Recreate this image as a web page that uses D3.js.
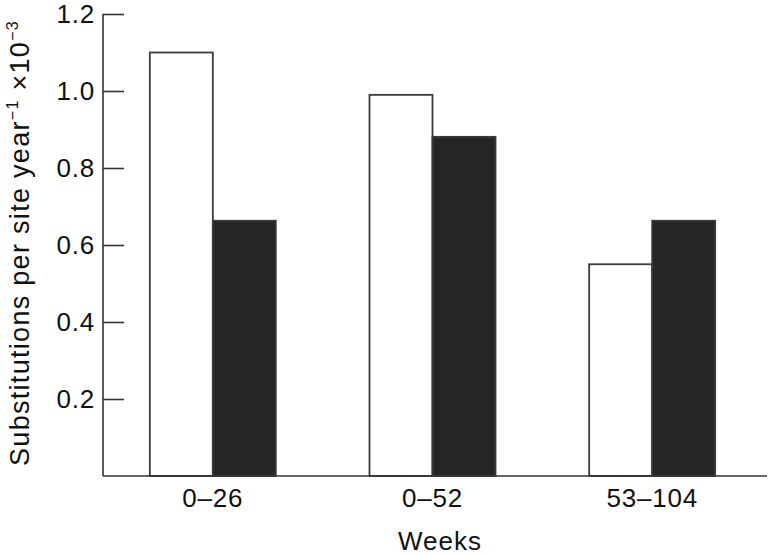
<!DOCTYPE html>
<html>
<head>
<meta charset="utf-8">
<script src="https://cdnjs.cloudflare.com/ajax/libs/d3/7.8.5/d3.min.js"></script>
<style>
  body { margin: 0; background: #fff; }
  text { font-family: "Liberation Sans", Arial, sans-serif; fill: #111; }
</style>
</head>
<body>
<div id="chart"></div>
<script>
// data
var groups = ["0\u201326", "0\u201352", "53\u2013104"];
var series = ["open", "filled"];
var openValues = [1.10, 0.99, 0.55];
var filledValues = [0.663, 0.881, 0.663];
var yTicks = [0.2, 0.4, 0.6, 0.8, 1.0, 1.2];

var w = 768, h = 555;
var margin = {left: 103, top: 14, right: 6, bottom: 79};

var svg = d3.select("#chart").append("svg")
  .attr("width", w)
  .attr("height", h);

var x = d3.scaleBand().domain(groups).range([103, 762]).padding(0);
var y = d3.scaleLinear().domain([0, 1.2]).range([h - margin.bottom, margin.top]);
var barW = 63;

// bars
var rows = groups.map(function(g, i) {
  return {g: g, vals: [openValues[i], filledValues[i]]};
});

var gBars = svg.selectAll(".grp")
  .data(rows)
  .enter()
  .append("g")
  .attr("transform", function(d) { return "translate(" + (x(d.g) + x.bandwidth() / 2) + ",0)"; });

gBars.selectAll("rect")
  .data(function(d) { return d.vals; })
  .enter()
  .append("rect")
  .attr("x", function(d, i) { return i === 0 ? -barW : 0; })
  .attr("y", function(d) { return y(d); })
  .attr("width", barW)
  .attr("height", function(d) { return y(0) - y(d); })
  .attr("fill", function(d, i) { return i === 0 ? "#fff" : "#252525"; })
  .attr("stroke", "#3a3a3a")
  .attr("stroke-width", 1.8);

// y axis, ticks pointing inward
var yAxis = svg.append("g")
  .attr("transform", "translate(103,0)")
  .call(d3.axisRight(y).tickValues(yTicks).tickSize(21).tickFormat(""));
yAxis.select(".domain").remove();
yAxis.selectAll("line").attr("stroke", "#333").attr("stroke-width", 1.6);

svg.append("line")
  .attr("x1", 103).attr("x2", 103)
  .attr("y1", y(1.2)).attr("y2", y(0))
  .attr("stroke", "#333").attr("stroke-width", 1.6);

svg.selectAll(".ylab")
  .data(yTicks)
  .enter()
  .append("text")
  .attr("x", 95)
  .attr("y", function(d) { return y(d) + 9; })
  .attr("text-anchor", "end")
  .attr("font-size", "26px")
  .attr("letter-spacing", "0.8px")
  .text(function(d) { return d.toFixed(1); });

// x axis
svg.append("line")
  .attr("x1", 103).attr("x2", 767)
  .attr("y1", y(0)).attr("y2", y(0))
  .attr("stroke", "#333").attr("stroke-width", 1.6);

svg.selectAll(".xlab")
  .data(groups)
  .enter()
  .append("text")
  .attr("x", function(d) { return x(d) + x.bandwidth() / 2; })
  .attr("y", 507)
  .attr("text-anchor", "middle")
  .attr("font-size", "26px")
  .attr("letter-spacing", "0.8px")
  .text(function(d) { return d; });

svg.append("text")
  .attr("x", 440)
  .attr("y", 550)
  .attr("text-anchor", "middle")
  .attr("font-size", "26px")
  .attr("letter-spacing", "1px")
  .text("Weeks");

// y title
var yt = svg.append("text")
  .attr("transform", "translate(29,243) rotate(-90)")
  .attr("text-anchor", "middle")
  .attr("font-size", "27px")
  .attr("letter-spacing", "1.3px");
yt.append("tspan").text("Substitutions per site year");
yt.append("tspan").attr("font-size", "16px").attr("dy", -11).text("\u22121");
yt.append("tspan").attr("dy", 11).text(" \u00d710");
yt.append("tspan").attr("font-size", "16px").attr("dy", -11).text("\u22123");
</script>
</body>
</html>
